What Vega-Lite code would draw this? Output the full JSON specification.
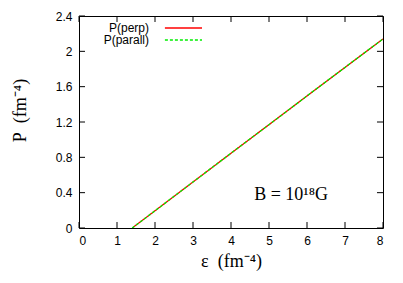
{
  "$schema": "https://vega.github.io/schema/vega-lite/v6.json",
  "width": 304,
  "height": 212,
  "autosize": "none",
  "padding": {"left": 79, "top": 16, "right": 20, "bottom": 55},
  "background": "white",
  "config": {
    "view": {"stroke": "black", "strokeWidth": 1},
    "axis": {"grid": false, "domainColor": "black", "labelColor": "black", "labelFont": "Liberation Sans", "labelFontSize": 12, "titleFont": "Liberation Serif", "titleFontSize": 18, "titleFontWeight": "normal", "titleColor": "black"}
  },
  "datasets": {
    "curves": [
      {"eps": 1.40, "P": 0.0, "series": "P(perp)"},
      {"eps": 2, "P": 0.195, "series": "P(perp)"},
      {"eps": 3, "P": 0.521, "series": "P(perp)"},
      {"eps": 4, "P": 0.846, "series": "P(perp)"},
      {"eps": 5, "P": 1.170, "series": "P(perp)"},
      {"eps": 6, "P": 1.495, "series": "P(perp)"},
      {"eps": 7, "P": 1.818, "series": "P(perp)"},
      {"eps": 8, "P": 2.140, "series": "P(perp)"},
      {"eps": 1.40, "P": 0.0, "series": "P(parall)"},
      {"eps": 2, "P": 0.195, "series": "P(parall)"},
      {"eps": 3, "P": 0.521, "series": "P(parall)"},
      {"eps": 4, "P": 0.846, "series": "P(parall)"},
      {"eps": 5, "P": 1.170, "series": "P(parall)"},
      {"eps": 6, "P": 1.495, "series": "P(parall)"},
      {"eps": 7, "P": 1.818, "series": "P(parall)"},
      {"eps": 8, "P": 2.140, "series": "P(parall)"}
    ],
    "note": [{"eps": 5.58, "P": 0.374, "label": "B = 10¹⁸G"}],
    "xticks": [{"eps": 0}, {"eps": 1}, {"eps": 2}, {"eps": 3}, {"eps": 4}, {"eps": 5}, {"eps": 6}, {"eps": 7}, {"eps": 8}],
    "yticks": [{"P": 0}, {"P": 0.4}, {"P": 0.8}, {"P": 1.2}, {"P": 1.6}, {"P": 2.0}, {"P": 2.4}]
  },
  "layer": [
    {
      "data": {"name": "curves"},
      "mark": {"type": "line", "strokeWidth": 1.3, "clip": true},
      "encoding": {
        "x": {"field": "eps", "type": "quantitative", "scale": {"domain": [0, 8], "nice": false}, "axis": {"orient": "bottom", "domain": false, "values": [0,1,2,3,4,5,6,7,8], "format": "~g", "ticks": false, "labelPadding": 7, "title": "ε\u00a0\u00a0(fm⁻⁴)", "titlePadding": 6}},
        "y": {"field": "P", "type": "quantitative", "scale": {"domain": [0, 2.4], "nice": false}, "axis": {"orient": "left", "domain": false, "values": [0,0.4,0.8,1.2,1.6,2,2.4], "format": ".1~f", "ticks": false, "labelPadding": 7, "title": "P\u00a0\u00a0(fm⁻⁴)", "titleX": -59, "titleY": 94, "titleAlign": "center", "titleBaseline": "middle", "titleAngle": -90}},
        "color": {"field": "series", "type": "nominal", "scale": {"domain": ["P(perp)", "P(parall)"], "range": ["#ff0000", "#00ee00"]},
          "legend": {"title": null, "orient": "none", "legendX": 89, "legendY": 6, "symbolType": "M-2.6,0H8", "symbolSize": 49, "symbolStrokeWidth": 1.3, "labelAlign": "right", "labelOffset": -31, "labelFont": "Liberation Sans", "labelFontSize": 12, "labelColor": "black", "rowPadding": 0, "symbolOffset": 0}},
        "strokeDash": {"field": "series", "type": "nominal", "scale": {"domain": ["P(perp)", "P(parall)"], "range": [[1, 0], [3, 2]]}, "legend": null},
        "order": {"field": "series", "sort": "descending"}
      }
    },
    {
      "data": {"name": "xticks"},
      "mark": {"type": "rule", "color": "black", "strokeWidth": 1},
      "encoding": {
        "x": {"field": "eps", "type": "quantitative", "axis": null},
        "y": {"datum": 0, "type": "quantitative", "axis": null},
        "y2": {"datum": 0.068}
      }
    },
    {
      "data": {"name": "xticks"},
      "mark": {"type": "rule", "color": "black", "strokeWidth": 1},
      "encoding": {
        "x": {"field": "eps", "type": "quantitative", "axis": null},
        "y": {"datum": 2.4, "type": "quantitative", "axis": null},
        "y2": {"datum": 2.332}
      }
    },
    {
      "data": {"name": "yticks"},
      "mark": {"type": "rule", "color": "black", "strokeWidth": 1},
      "encoding": {
        "y": {"field": "P", "type": "quantitative", "axis": null},
        "x": {"datum": 0, "type": "quantitative", "axis": null},
        "x2": {"datum": 0.158}
      }
    },
    {
      "data": {"name": "yticks"},
      "mark": {"type": "rule", "color": "black", "strokeWidth": 1},
      "encoding": {
        "y": {"field": "P", "type": "quantitative", "axis": null},
        "x": {"datum": 8, "type": "quantitative", "axis": null},
        "x2": {"datum": 7.842}
      }
    },
    {
      "data": {"name": "note"},
      "mark": {"type": "text", "font": "Liberation Serif", "fontSize": 18, "align": "center", "baseline": "middle", "color": "black"},
      "encoding": {
        "x": {"field": "eps", "type": "quantitative", "axis": null},
        "y": {"field": "P", "type": "quantitative", "axis": null},
        "text": {"field": "label"}
      }
    }
  ],
  "resolve": {"axis": {"x": "independent", "y": "independent"}}
}
